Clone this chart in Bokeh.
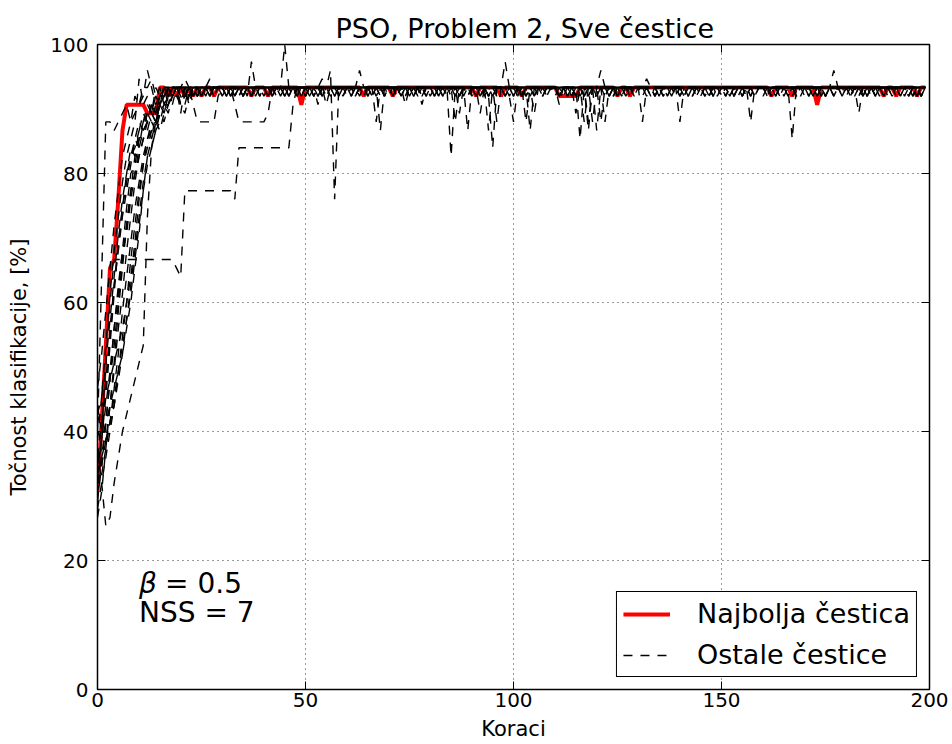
from bokeh.plotting import figure
from bokeh.models import (Range1d, LinearAxis, Legend, LegendItem, Label,
                          CustomJSTickFormatter, FixedTicker)
from bokeh.embed import file_html
from bokeh.resources import INLINE

# ---------------- data ----------------
N_SAMPLES = 75          # accuracy = correctly classified / 75
STEPS = list(range(200))
X_TICKS = [0, 50, 100, 150, 200]
Y_TICKS = [0, 20, 40, 60, 80, 100]
# late-phase codes: character -> correctly classified samples (75 - index)
LEVEL_CODES = "edcba0123456789ABCDEFGHIJKLMNOPQRSTUVWXYZ"

# best particle: counts for steps 0..19, then codes for steps 20..199
BEST_EARLY = [23, 31, 40, 49, 50, 57, 65, 68, 68, 68, 68, 68, 67, 67, 67, 70, 70, 69, 70, 69]
BEST_LATE = "0101010010 0000000100 0100000002 0000000000 0000100000 0100000000 0000000000 0100000100 0010000000 0111110000 0000010010 0000000000 0000000000 0000000000 0010000100 0002000000 0000000001 0010000100"

P01_EARLY = [30, 48, 66, 66, 65, 66, 67, 68, 66, 69, 68, 70, 70, 71, 69, 70, 68, 70, 69, 70]
P01_LATE = "0000100000 0000000000 0010000000 0000000100 0000000000 0001000000 0000000000 0000010000 0000000000 0000100000 0000000000 0000000010 0000000000 0001000000 0000000000 0000010000 0000000000 0000000100"
P02_EARLY = [22, 30, 38, 45, 50, 50, 50, 50, 50, 50, 50, 50, 50, 50, 50, 50, 50, 50, 50, 49]
P02_LATE = "MCCCCCCCCC CCCD777777 7777777200 0000000000 0000000000 0000000000 0001000000 0000000000 0000000000 0000006000 0000000000 0000000000 0000100000 0000000000 0000000000 0000000000 0000000000 0000000000"
P03_EARLY = [28, 24, 19, 20, 24, 27, 30, 32, 34, 36, 38, 40, 55, 63, 66, 68, 69, 70, 70, 70]
P03_LATE = "0101000100 1000010000 0001000010 0000100000 0100000001 0000010000 0100000000 0001000010 0000000100 0010000000 5000100000 0000010000 1000000100 0000100000 0010000010 0000000000 0001000100 0000010000"
P04_EARLY = [25, 29, 34, 40, 46, 52, 56, 60, 62, 63, 65, 66, 68, 67, 69, 68, 70, 69, 70, 70]
P04_LATE = "0100000a00 0102444444 4300000000 0000010000 0000000000 0010000000 0000000100 0000000000 0100000000 0000000004 0000000000 0000000000 0000010000 0000000000 0100000000 0000000000 0000010000 0000000000"
P05_EARLY = [33, 30, 35, 42, 47, 51, 55, 58, 61, 64, 66, 65, 67, 68, 66, 68, 69, 70, 70, 69]
P05_LATE = "0102444441 0101010010 1010010101 0010100101 0101001010 1001010010 0101001001 0100101010 1010010010 0101010100 0b01001010 0100101001 0101001010 1001010100 0101001010 0010100101 0101010010 1001010100"
P06_EARLY = [20, 23, 28, 33, 38, 44, 49, 54, 58, 62, 64, 66, 67, 66, 68, 69, 69, 70, 68, 70]
P06_LATE = "1010010100 0101001c00 0100101001 0101001010 1010100101 0010101001 0101001010 0100170010 1010010100 0101001010 0010100101 0401010010 1010010101 0101001010 0010101001 0101010100 1010010101 0100101010"
P07_EARLY = [28, 26, 29, 33, 37, 42, 46, 51, 55, 59, 62, 64, 65, 67, 66, 68, 67, 69, 70, 70]
P07_LATE = "0a01010010 1001010101 0101001010 1010010010 0100101001 0101001010 1010010101 00101000c0 1010010100 0101010010 1001010101 00a0101001 0101001010 1010010100 0101010010 1001010101 0010100101 0101001010"
P08_EARLY = [24, 27, 31, 36, 42, 47, 51, 53, 57, 60, 63, 65, 66, 64, 67, 68, 70, 69, 70, 70]
P08_LATE = "0010100000 0100100101 0010010000 1001000100 0010010010 0100001001 0010100100 1000010001 4001001000 0100100100 1001000010 0010010100 0100100001 0010001010 1000100100 0010010001 0100100100 0010010010"
P09_EARLY = [31, 33, 34, 36, 38, 40, 42, 45, 48, 52, 57, 61, 64, 66, 65, 67, 68, 69, 70, 70]
P09_LATE = "0000100100 0010000000 0000100000 001000bD00 0000000000 0000100000 0000000100 0000000000 0010000000 0000000000 0001000000 0000000000 4000000100 0000000000 0000100000 0000000000 0100000000 0000000010"
P10_EARLY = [23, 25, 28, 31, 35, 39, 44, 48, 52, 56, 59, 62, 64, 65, 66, 67, 66, 68, 69, 69]
P10_LATE = "2310010000 0100000100 0000010000 0100000001 000b000000 0000001000 0100000000 0000000001 0000100000 0100000000 0000001000 0000000100 0000000000 0100000400 0000000000 0010000000 0000001000 0000000000"
P11_EARLY = [27, 31, 36, 41, 47, 52, 56, 59, 62, 64, 63, 66, 67, 68, 67, 69, 70, 70, 70, 70]
P11_LATE = "0101001000 0010000100 0100000001 0000100000 0010000050 0000000100 0010000000 0000100000 0100000010 0000000100 0010000000 0000100000 0000000010 0010000000 0000000600 0000100000 0100000000 0000001000"
P12_EARLY = [21, 24, 27, 30, 33, 37, 41, 45, 50, 54, 58, 61, 63, 65, 66, 68, 67, 69, 70, 70]
P12_LATE = "3020100010 0000100000 0010000000 1000000000 0000010000 0000200000 0000000100 0010000000 0000000000 1000000000 0000010000 0000000000 0010000000 0000000010 0000000000 0000000b00 0000100000 0000000000"
P13_EARLY = [29, 34, 40, 46, 51, 55, 59, 62, 64, 66, 71, 68, 69, 67, 70, 69, 70, 70, 70, 70]
P13_LATE = "0000000000 0000010000 0000000000 0000a00000 0010000000 0000000000 0000080000 0000000000 0001000000 0000000000 0040000000 0000000000 0000000000 0000010000 0000000000 0000000000 0000000000 0001000000"
P14_EARLY = [25, 27, 29, 31, 34, 37, 40, 43, 47, 51, 55, 59, 62, 64, 66, 65, 67, 68, 70, 70]
P14_LATE = "2010000000 0000000010 0000001000 0000000000 0000000000 0000000100 0000004000 0000000000 0000000000 0001000000 0000000000 0000000000 0000000000 0000000000 0001000000 0000000000 0003000000 0000000000"
P15_EARLY = [32, 34, 38, 43, 48, 53, 57, 60, 63, 62, 65, 67, 66, 68, 69, 68, 70, 70, 69, 70]
P15_LATE = "0001000100 0010010000 0000000100 0002000000 0000001000 0000000000 0000000005 0000000000 0000000000 0000010400 0000000000 0001000000 0000000000 0000000000 0000000000 0100000000 0000000000 0000000000"
P16_EARLY = [26, 29, 33, 37, 42, 46, 51, 56, 60, 61, 64, 65, 66, 68, 67, 69, 70, 68, 69, 70]
P16_LATE = "0000010000 0001000000 0000000000 0000020000 0000000000 0000000000 0000000000 0000500000 0000000000 0000000050 0000000000 0000000000 0000000000 0000000000 0000000000 0000000000 0000000000 0000000000"
P17_EARLY = [30, 29, 31, 33, 35, 37, 39, 42, 45, 49, 53, 58, 62, 63, 65, 66, 68, 67, 69, 70]
P17_LATE = "1200000000 0000000000 00000e0000 0000000000 0000000000 0000000000 0000000000 0000004000 0000000000 0000030000 0000000000 0000000000 0000000000 0000000000 0000000000 0000000000 0000000000 0000000000"
P18_EARLY = [22, 26, 31, 36, 40, 45, 50, 54, 58, 60, 62, 64, 66, 67, 66, 68, 69, 70, 70, 70]
P18_LATE = "0100000000 0000000000 0000000000 0000000000 0000000000 0000000000 0000000000 0030000000 0004000000 0000000000 0400000000 0000000000 0000000000 0000000000 0000000000 0000000000 0000000000 0000000000"
P19_EARLY = [35, 39, 44, 49, 54, 58, 62, 64, 66, 67, 68, 69, 72, 70, 68, 69, 70, 70, 69, 70]
P19_LATE = "0000000000 0000000000 0000000000 0000000000 0000000400 0000000000 0000000300 0000000000 0000500000 0000000040 0000000000 0000000000 0000000000 0000000000 0000000000 0000000000 0000000000 0000000000"
P20_EARLY = [27, 28, 29, 31, 33, 36, 39, 43, 46, 50, 54, 58, 61, 63, 65, 67, 68, 68, 69, 70]
P20_LATE = "2100000000 0000000000 0000000000 0000000000 0000000000 0000000020 0000000000 0000000000 0000030000 0200000000 0000000000 0000000000 0000000000 0000000000 0000000000 0000000000 0000000000 0000000000"

OTHERS = [
    (P01_EARLY, P01_LATE), (P02_EARLY, P02_LATE), (P03_EARLY, P03_LATE), (P04_EARLY, P04_LATE),
    (P05_EARLY, P05_LATE), (P06_EARLY, P06_LATE), (P07_EARLY, P07_LATE), (P08_EARLY, P08_LATE),
    (P09_EARLY, P09_LATE), (P10_EARLY, P10_LATE), (P11_EARLY, P11_LATE), (P12_EARLY, P12_LATE),
    (P13_EARLY, P13_LATE), (P14_EARLY, P14_LATE), (P15_EARLY, P15_LATE), (P16_EARLY, P16_LATE),
    (P17_EARLY, P17_LATE), (P18_EARLY, P18_LATE), (P19_EARLY, P19_LATE), (P20_EARLY, P20_LATE),
]


def decode(early, late):
    counts = list(early) + [N_SAMPLES - LEVEL_CODES.index(c) for c in late.replace(" ", "")]
    return [100.0 * c / N_SAMPLES for c in counts]


FONT = "DejaVu Sans"

p = figure(width=952, height=744, x_range=Range1d(0, 200), y_range=Range1d(0, 100),
           output_backend="svg", toolbar_location=None,
           min_border_left=97, min_border_right=23, min_border_top=44, min_border_bottom=55,
           title="PSO, Problem 2, Sve čestice")
p.title.text_font = FONT
p.title.text_font_size = "27px"
p.title.text_font_style = "normal"
p.title.text_color = "black"
p.title.align = "left"
p.title.offset = 238
p.title.standoff = 2

p.outline_line_color = "black"
p.outline_line_width = 1.5

for ax in (p.xaxis[0], p.yaxis[0]):
    ax.major_tick_in = 8
    ax.major_tick_out = 0
    ax.minor_tick_in = 0
    ax.minor_tick_out = 0
    ax.axis_line_color = "black"
    ax.major_tick_line_color = "black"
    ax.major_label_text_font = FONT
    ax.major_label_text_font_size = "20px"
    ax.major_label_text_color = "black"
    ax.axis_label_text_font = FONT
    ax.axis_label_text_font_size = "21px"
    ax.axis_label_text_font_style = "normal"
    ax.axis_label_text_color = "black"

p.xaxis.ticker = FixedTicker(ticks=X_TICKS)
p.yaxis.ticker = FixedTicker(ticks=Y_TICKS)
p.xaxis.axis_label = "Koraci"
p.yaxis.axis_label = "Točnost klasifikacije, [%]"
p.xaxis.major_label_standoff = 3
p.xaxis.axis_label_standoff = 7
p.yaxis.major_label_standoff = 9
p.yaxis.axis_label_standoff = 16

for loc, ticks in (("right", Y_TICKS), ("above", X_TICKS)):
    ax = LinearAxis(ticker=FixedTicker(ticks=ticks),
                    formatter=CustomJSTickFormatter(code="return ''"),
                    major_tick_in=8, major_tick_out=0, minor_tick_in=0, minor_tick_out=0,
                    major_label_standoff=0, major_label_text_font_size="1px",
                    axis_line_color="black")
    p.add_layout(ax, loc)

p.grid.grid_line_color = "black"
p.grid.grid_line_dash = "1 4"
p.grid.grid_line_width = 1
p.grid.grid_line_alpha = 0.8

best = p.line(STEPS, decode(BEST_EARLY, BEST_LATE), line_color="#ff0000", line_width=4)
others = []
for early, late in OTHERS:
    ys = decode(early, late)
    r = p.line(STEPS[:len(ys)], ys, line_color="black", line_width=1.4, line_dash="9 8")
    others.append(r)

legend = Legend(items=[LegendItem(label="Najbolja čestica", renderers=[best]),
                       LegendItem(label="Ostale čestice", renderers=[others[0]])],
                location="bottom_right")
legend.label_text_font = FONT
legend.label_text_font_size = "27px"
legend.label_text_color = "black"
legend.border_line_color = "black"
legend.border_line_width = 1
legend.border_line_alpha = 1
legend.background_fill_alpha = 1
legend.padding = 6
legend.spacing = 10
legend.label_height = 26
legend.glyph_height = 26
legend.glyph_width = 47
legend.label_standoff = 27
legend.margin = 12
p.add_layout(legend, "center")

p.add_layout(Label(x=10, y=16.4, text="β", text_font=FONT, text_font_style="italic",
                   text_font_size="28px", text_baseline="middle", text_color="black"))
p.add_layout(Label(x=10, y=16.4, x_offset=26, text="= 0.5", text_font=FONT,
                   text_font_size="28px", text_baseline="middle", text_color="black"))
p.add_layout(Label(x=10, y=11.9, text="NSS = 7", text_font=FONT,
                   text_font_size="28px", text_baseline="middle", text_color="black"))

open("out.html", "w").write(file_html(p, INLINE))
